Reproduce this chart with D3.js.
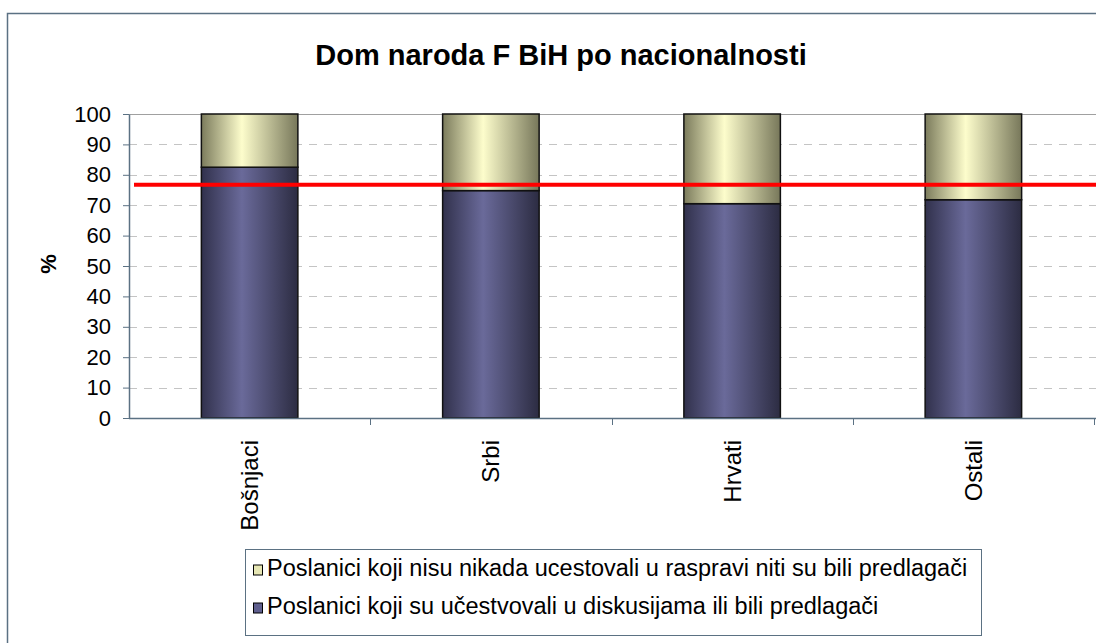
<!DOCTYPE html>
<html>
<head>
<meta charset="utf-8">
<script src="https://cdn.jsdelivr.net/npm/d3@7"></script>
<style>
  body { margin: 0; background: #fff; }
  svg { display: block; font-family: "Liberation Sans", Arial, sans-serif; }
</style>
</head>
<body>
<div id="chart"></div>
<script>
// Data
const categories = ["Bošnjaci", "Srbi", "Hrvati", "Ostali"];
const participated = [82.5, 74.8, 70.5, 71.8];
const neverParticipated = participated.map(v => 100 - v);
const averageLine = 76.7;
const yTicks = [0, 10, 20, 30, 40, 50, 60, 70, 80, 90, 100];
const seriesNames = [
  "Poslanici koji nisu nikada ucestovali u raspravi niti su bili predlagači",
  "Poslanici koji su učestvovali u diskusijama ili bili predlagači"
];
const title = "Dom naroda F BiH po nacionalnosti";

const W = 1096, H = 643;
const plot = { left: 129, right: 1094, top: 114, bottom: 418 };
const axisColor = "#5b7183";

const svg = d3.select("#chart").append("svg")
  .attr("width", W)
  .attr("height", H);

// gradients for the bars
const defs = svg.append("defs");
function addGradient(id, edgeL, mid, edgeR) {
  const g = defs.append("linearGradient").attr("id", id)
    .attr("x1", "0%").attr("x2", "100%").attr("y1", "0%").attr("y2", "0%");
  g.append("stop").attr("offset", "0%").attr("stop-color", edgeL);
  g.append("stop").attr("offset", "42%").attr("stop-color", mid);
  g.append("stop").attr("offset", "100%").attr("stop-color", edgeR);
}
addGradient("gradPurple", "#31314c", "#6a6a9a", "#2c2c42");
addGradient("gradYellow", "#7b7b5c", "#fdfdcc", "#77775a");

// outer chart border (runs off right and bottom edge)
svg.append("rect")
  .attr("x", 7.5).attr("y", 13.5)
  .attr("width", W + 10).attr("height", H + 10)
  .attr("fill", "none")
  .attr("stroke", axisColor)
  .attr("stroke-width", 1.5);

// title
svg.append("text")
  .attr("x", 561)
  .attr("y", 65)
  .attr("text-anchor", "middle")
  .style("font-size", "29px")
  .style("font-weight", "bold")
  .text(title);

// scales
const x = d3.scaleBand()
  .domain(categories)
  .range([plot.left, plot.right])
  .paddingInner(0.6)
  .paddingOuter(0.3);

const y = d3.scaleLinear()
  .domain([0, 100])
  .range([plot.bottom, plot.top]);

// horizontal gridlines
svg.selectAll(".grid")
  .data(yTicks.filter(d => d > 0))
  .join("line")
  .attr("class", "grid")
  .attr("x1", plot.left)
  .attr("x2", W)
  .attr("y1", d => Math.round(y(d)) + 0.5)
  .attr("y2", d => Math.round(y(d)) + 0.5)
  .attr("stroke", d => d === 100 ? "#a0a0a0" : "#c4c4c4")
  .attr("stroke-width", 1)
  .attr("stroke-dasharray", d => d === 100 ? null : "8,7");

// stacked bars
const bars = svg.append("g");
bars.selectAll(".low")
  .data(categories)
  .join("rect")
  .attr("x", d => x(d))
  .attr("y", (d, i) => y(participated[i]))
  .attr("width", x.bandwidth())
  .attr("height", (d, i) => y(0) - y(participated[i]))
  .attr("fill", "url(#gradPurple)")
  .attr("stroke", "#111")
  .attr("stroke-width", 1.5);

bars.selectAll(".high")
  .data(categories)
  .join("rect")
  .attr("x", d => x(d))
  .attr("y", y(100))
  .attr("width", x.bandwidth())
  .attr("height", (d, i) => y(participated[i]) - y(participated[i] + neverParticipated[i]))
  .attr("fill", "url(#gradYellow)")
  .attr("stroke", "#111")
  .attr("stroke-width", 1.5);

// y axis
const yAxis = svg.append("g")
  .attr("transform", `translate(${plot.left},0)`)
  .call(d3.axisLeft(y).tickValues(yTicks).tickSize(6).tickPadding(12).tickSizeOuter(0));
yAxis.select(".domain").attr("stroke", axisColor).attr("stroke-width", 1.5);
yAxis.selectAll(".tick line").attr("stroke", axisColor);
yAxis.selectAll(".tick text")
  .attr("fill", "#000")
  .style("font-size", "22px")
  .style("font-family", "Liberation Sans, Arial, sans-serif");

// x axis line and category boundary ticks
svg.append("line")
  .attr("x1", plot.left).attr("x2", W)
  .attr("y1", plot.bottom + 0.5).attr("y2", plot.bottom + 0.5)
  .attr("stroke", axisColor)
  .attr("stroke-width", 1.5);

const boundaries = categories.map(c => x(c) + x.bandwidth() / 2 + x.step() / 2);
svg.selectAll(".xtick")
  .data(boundaries)
  .join("line")
  .attr("x1", d => Math.round(d) + 0.5)
  .attr("x2", d => Math.round(d) + 0.5)
  .attr("y1", plot.bottom)
  .attr("y2", plot.bottom + 7)
  .attr("stroke", axisColor);

// category labels, rotated
svg.selectAll(".cat")
  .data(categories)
  .join("text")
  .attr("transform", d => `translate(${x(d) + x.bandwidth() / 2},440) rotate(-90)`)
  .attr("text-anchor", "end")
  .attr("dy", "0.35em")
  .style("font-size", "24px")
  .text(d => d);

// y axis title
svg.append("text")
  .attr("transform", "translate(48,264) rotate(-90)")
  .attr("text-anchor", "middle")
  .attr("dy", "0.35em")
  .style("font-size", "22px")
  .style("font-weight", "bold")
  .text("%");

// red reference line
svg.append("line")
  .attr("x1", 134).attr("x2", W)
  .attr("y1", y(averageLine)).attr("y2", y(averageLine))
  .attr("stroke", "#ff0000")
  .attr("stroke-width", 4);

// legend
const legend = svg.append("g");
legend.append("rect")
  .attr("x", 245.5).attr("y", 549.5)
  .attr("width", 736).attr("height", 86)
  .attr("fill", "#fff")
  .attr("stroke", axisColor)
  .attr("stroke-width", 1);

const swatchColors = ["#e6e6b4", "#5f5f8e"];
seriesNames.forEach((name, i) => {
  const cy = 570 + i * 38;
  legend.append("rect")
    .attr("x", 253.5).attr("y", cy - 5)
    .attr("width", 9).attr("height", 10)
    .attr("fill", swatchColors[i])
    .attr("stroke", "#000")
    .attr("stroke-width", 1);
  legend.append("text")
    .attr("x", 267)
    .attr("y", cy + 6)
    .style("font-size", "23.5px")
    .text(name);
});
</script>
</body>
</html>
